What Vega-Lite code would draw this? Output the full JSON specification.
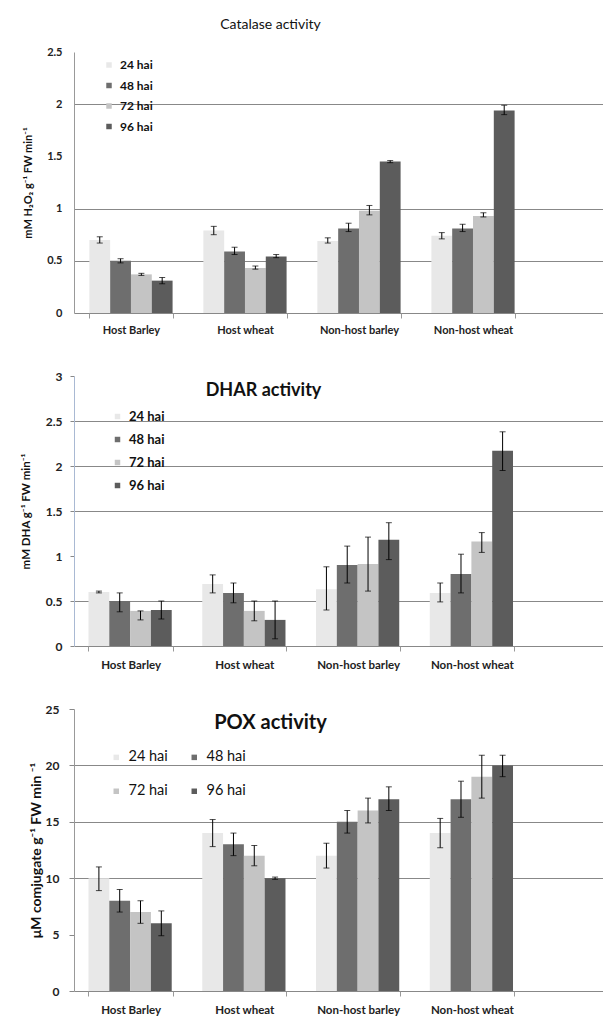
{
  "$schema": "https://vega.github.io/schema/vega-lite/v6.json",
  "background": "white",
  "padding": {"left": 20, "top": 18, "right": 0, "bottom": 0},
  "bounds": "flush",
  "spacing": 63,
  "resolve": {"scale": {"color": "independent"}, "legend": {"color": "independent"}},
  "config": {
    "view": {"stroke": null},
    "font": "Lato",
    "axis": {"labelFont": "Lato", "titleFont": "Lato", "labelColor": "#222", "titleColor": "#111"},
    "legend": {"labelFont": "Lato"},
    "title": {"font": "Lato", "color": "#111"}
  },
  "datasets": {
    "cat": [
      {"g": "Host Barley", "t": "24 hai", "v": 0.70, "lo": 0.67, "hi": 0.73},
      {"g": "Host Barley", "t": "48 hai", "v": 0.50, "lo": 0.48, "hi": 0.52},
      {"g": "Host Barley", "t": "72 hai", "v": 0.37, "lo": 0.36, "hi": 0.38},
      {"g": "Host Barley", "t": "96 hai", "v": 0.31, "lo": 0.28, "hi": 0.34},
      {"g": "Host wheat", "t": "24 hai", "v": 0.79, "lo": 0.75, "hi": 0.83},
      {"g": "Host wheat", "t": "48 hai", "v": 0.59, "lo": 0.56, "hi": 0.63},
      {"g": "Host wheat", "t": "72 hai", "v": 0.43, "lo": 0.42, "hi": 0.45},
      {"g": "Host wheat", "t": "96 hai", "v": 0.54, "lo": 0.53, "hi": 0.56},
      {"g": "Non-host barley", "t": "24 hai", "v": 0.69, "lo": 0.67, "hi": 0.72},
      {"g": "Non-host barley", "t": "48 hai", "v": 0.81, "lo": 0.78, "hi": 0.86},
      {"g": "Non-host barley", "t": "72 hai", "v": 0.98, "lo": 0.94, "hi": 1.03},
      {"g": "Non-host barley", "t": "96 hai", "v": 1.45, "lo": 1.44, "hi": 1.46},
      {"g": "Non-host wheat", "t": "24 hai", "v": 0.74, "lo": 0.71, "hi": 0.77},
      {"g": "Non-host wheat", "t": "48 hai", "v": 0.81, "lo": 0.78, "hi": 0.85},
      {"g": "Non-host wheat", "t": "72 hai", "v": 0.93, "lo": 0.92, "hi": 0.96},
      {"g": "Non-host wheat", "t": "96 hai", "v": 1.94, "lo": 1.90, "hi": 1.99}
    ],
    "dhar": [
      {"g": "Host Barley", "t": "24 hai", "v": 0.60, "lo": 0.59, "hi": 0.61},
      {"g": "Host Barley", "t": "48 hai", "v": 0.50, "lo": 0.38, "hi": 0.59},
      {"g": "Host Barley", "t": "72 hai", "v": 0.39, "lo": 0.29, "hi": 0.39},
      {"g": "Host Barley", "t": "96 hai", "v": 0.40, "lo": 0.30, "hi": 0.50},
      {"g": "Host wheat", "t": "24 hai", "v": 0.69, "lo": 0.59, "hi": 0.79},
      {"g": "Host wheat", "t": "48 hai", "v": 0.59, "lo": 0.48, "hi": 0.70},
      {"g": "Host wheat", "t": "72 hai", "v": 0.39, "lo": 0.28, "hi": 0.50},
      {"g": "Host wheat", "t": "96 hai", "v": 0.29, "lo": 0.08, "hi": 0.50},
      {"g": "Non-host barley", "t": "24 hai", "v": 0.63, "lo": 0.40, "hi": 0.88},
      {"g": "Non-host barley", "t": "48 hai", "v": 0.90, "lo": 0.70, "hi": 1.11},
      {"g": "Non-host barley", "t": "72 hai", "v": 0.91, "lo": 0.61, "hi": 1.21},
      {"g": "Non-host barley", "t": "96 hai", "v": 1.18, "lo": 0.96, "hi": 1.37},
      {"g": "Non-host wheat", "t": "24 hai", "v": 0.59, "lo": 0.49, "hi": 0.70},
      {"g": "Non-host wheat", "t": "48 hai", "v": 0.80, "lo": 0.59, "hi": 1.02},
      {"g": "Non-host wheat", "t": "72 hai", "v": 1.16, "lo": 1.04, "hi": 1.26},
      {"g": "Non-host wheat", "t": "96 hai", "v": 2.17, "lo": 1.95, "hi": 2.38}
    ],
    "pox": [
      {"g": "Host Barley", "t": "24 hai", "v": 10, "lo": 8.9, "hi": 11.0},
      {"g": "Host Barley", "t": "48 hai", "v": 8, "lo": 7.0, "hi": 9.0},
      {"g": "Host Barley", "t": "72 hai", "v": 7, "lo": 6.0, "hi": 8.0},
      {"g": "Host Barley", "t": "96 hai", "v": 6, "lo": 4.9, "hi": 7.1},
      {"g": "Host wheat", "t": "24 hai", "v": 14, "lo": 12.8, "hi": 15.2},
      {"g": "Host wheat", "t": "48 hai", "v": 13, "lo": 12.0, "hi": 14.0},
      {"g": "Host wheat", "t": "72 hai", "v": 12, "lo": 11.1, "hi": 12.9},
      {"g": "Host wheat", "t": "96 hai", "v": 10, "lo": 9.9, "hi": 10.1},
      {"g": "Non-host barley", "t": "24 hai", "v": 12, "lo": 10.9, "hi": 13.1},
      {"g": "Non-host barley", "t": "48 hai", "v": 15, "lo": 14.0, "hi": 16.0},
      {"g": "Non-host barley", "t": "72 hai", "v": 16, "lo": 14.9, "hi": 17.1},
      {"g": "Non-host barley", "t": "96 hai", "v": 17, "lo": 16.0, "hi": 18.1},
      {"g": "Non-host wheat", "t": "24 hai", "v": 14, "lo": 12.7, "hi": 15.3},
      {"g": "Non-host wheat", "t": "48 hai", "v": 17, "lo": 15.4, "hi": 18.6},
      {"g": "Non-host wheat", "t": "72 hai", "v": 19, "lo": 17.1, "hi": 20.9},
      {"g": "Non-host wheat", "t": "96 hai", "v": 20, "lo": 19.0, "hi": 20.9}
    ]
  },
  "vconcat": [
    {
      "width": 529,
      "height": 261,
      "data": {"name": "cat"},
      "title": {"text": "Catalase activity", "fontSize": 14, "fontWeight": "normal", "frame": "group", "anchor": "middle", "dx": -68, "offset": 14},
      "encoding": {
        "x": {"field": "g", "type": "nominal", "sort": null, "title": null,
              "scale": {"paddingInner": 0.27, "paddingOuter": 0.455, "align": 0.148},
              "axis": {"labelAngle": 0, "labelFontSize": 11, "labelFontWeight": "bold", "domain": false, "tickBand": "extent", "tickColor": "#999", "tickSize": 5, "labelPadding": 6}},
        "xOffset": {"field": "t", "type": "nominal", "sort": null, "scale": {"paddingInner": 0, "paddingOuter": 0}}
      },
      "layer": [
        {
          "mark": {"type": "bar"},
          "encoding": {
            "y": {"field": "v", "type": "quantitative", "title": "mM H₂O₂ g⁻¹ FW min⁻¹",
                  "scale": {"domain": [0, 2.5], "nice": false},
                  "axis": {"values": [0, 0.5, 1, 1.5, 2, 2.5], "format": "~g", "labelFontSize": 11, "labelFontWeight": "bold", "ticks": false, "labelPadding": 12, "domainColor": "#999",
                           "gridColor": "#888", "gridOpacity": {"condition": {"test": "datum.value == 1.5 || datum.value == 2.5", "value": 0}, "value": 1},
                           "titleFontSize": 11, "titleFontWeight": "bold", "titleX": -46, "titleBaseline": "middle"}},
            "color": {"field": "t", "type": "nominal", "sort": null,
                      "scale": {"domain": ["24 hai", "48 hai", "72 hai", "96 hai"], "range": ["#e8e8e8", "#6e6e6e", "#c4c4c4", "#5c5c5c"]},
                      "legend": {"orient": "none", "legendX": 29, "legendY": 7, "direction": "vertical", "columns": 1, "title": null, "symbolType": "square", "symbolSize": 30, "symbolStrokeWidth": 0,
                                 "labelFontSize": 12, "labelFontWeight": "bold", "labelColor": "#111", "rowPadding": 8.5, "labelOffset": 5}}
          }
        },
        {"mark": {"type": "rule", "color": "#000", "strokeWidth": 1},
         "encoding": {"y": {"field": "lo", "type": "quantitative", "title": "mM H₂O₂ g⁻¹ FW min⁻¹"}, "y2": {"field": "hi"}}},
        {"mark": {"type": "tick", "color": "#000", "size": 6, "thickness": 1},
         "encoding": {"y": {"field": "lo", "type": "quantitative", "title": "mM H₂O₂ g⁻¹ FW min⁻¹"}}},
        {"mark": {"type": "tick", "color": "#000", "size": 6, "thickness": 1},
         "encoding": {"y": {"field": "hi", "type": "quantitative", "title": "mM H₂O₂ g⁻¹ FW min⁻¹"}}}
      ]
    },
    {
      "width": 529,
      "height": 270,
      "data": {"name": "dhar"},
      "title": {"text": "DHAR activity", "fontSize": 18, "fontWeight": "bold", "frame": "group", "anchor": "middle", "dx": -75, "offset": -30},
      "encoding": {
        "x": {"field": "g", "type": "nominal", "sort": null, "title": null,
              "scale": {"paddingInner": 0.26, "paddingOuter": 0.455, "align": 0.14},
              "axis": {"labelAngle": 0, "labelFontSize": 11.5, "labelFontWeight": "bold", "domain": false, "tickBand": "extent", "tickColor": "#999", "tickSize": 5, "labelPadding": 8}},
        "xOffset": {"field": "t", "type": "nominal", "sort": null, "scale": {"paddingInner": 0, "paddingOuter": 0}}
      },
      "layer": [
        {
          "mark": {"type": "bar"},
          "encoding": {
            "y": {"field": "v", "type": "quantitative", "title": "mM DHA g⁻¹ FW min⁻¹",
                  "scale": {"domain": [0, 3], "nice": false},
                  "axis": {"values": [0, 0.5, 1, 1.5, 2, 2.5, 3], "format": "~g", "labelFontSize": 12, "labelFontWeight": "bold", "tickSize": 4, "tickColor": "#888", "labelPadding": 8, "domainColor": "#a9b9d3",
                           "gridColor": "#888", "gridOpacity": {"condition": {"test": "datum.value == 1 || datum.value == 3", "value": 0}, "value": 1},
                           "titleFontSize": 11.5, "titleFontWeight": "bold", "titleX": -48, "titleBaseline": "middle"}},
            "color": {"field": "t", "type": "nominal", "sort": null,
                      "scale": {"domain": ["24 hai", "48 hai", "72 hai", "96 hai"], "range": ["#e8e8e8", "#6e6e6e", "#c4c4c4", "#5c5c5c"]},
                      "legend": {"orient": "none", "legendX": 37, "legendY": 34, "direction": "vertical", "columns": 1, "title": null, "symbolType": "square", "symbolSize": 30, "symbolStrokeWidth": 0,
                                 "labelFontSize": 13, "labelFontWeight": "bold", "labelColor": "#111", "rowPadding": 9, "labelOffset": 5}}
          }
        },
        {"mark": {"type": "rule", "color": "#000", "strokeWidth": 1},
         "encoding": {"y": {"field": "lo", "type": "quantitative", "title": "mM DHA g⁻¹ FW min⁻¹"}, "y2": {"field": "hi"}}},
        {"mark": {"type": "tick", "color": "#000", "size": 6, "thickness": 1},
         "encoding": {"y": {"field": "lo", "type": "quantitative", "title": "mM DHA g⁻¹ FW min⁻¹"}}},
        {"mark": {"type": "tick", "color": "#000", "size": 6, "thickness": 1},
         "encoding": {"y": {"field": "hi", "type": "quantitative", "title": "mM DHA g⁻¹ FW min⁻¹"}}}
      ]
    },
    {
      "width": 529,
      "height": 282,
      "data": {"name": "pox"},
      "title": {"text": "POX activity", "fontSize": 20, "fontWeight": "bold", "frame": "group", "anchor": "middle", "dx": -68, "offset": -30},
      "encoding": {
        "x": {"field": "g", "type": "nominal", "sort": null, "title": null,
              "scale": {"paddingInner": 0.26, "paddingOuter": 0.455, "align": 0.14},
              "axis": {"labelAngle": 0, "labelFontSize": 11.5, "labelFontWeight": "bold", "domain": false, "tickBand": "extent", "tickColor": "#999", "tickSize": 5, "labelPadding": 8}},
        "xOffset": {"field": "t", "type": "nominal", "sort": null, "scale": {"paddingInner": 0, "paddingOuter": 0}}
      },
      "layer": [
        {
          "mark": {"type": "bar"},
          "encoding": {
            "y": {"field": "v", "type": "quantitative", "title": "μM comjugate g⁻¹ FW min ⁻¹",
                  "scale": {"domain": [0, 25], "nice": false},
                  "axis": {"values": [0, 5, 10, 15, 20, 25], "labelFontSize": 12, "labelFontWeight": "bold", "tickSize": 5, "tickColor": "#888", "labelPadding": 10, "domainColor": "#999",
                           "gridColor": "#888", "gridOpacity": {"condition": {"test": "datum.value == 5 || datum.value == 25", "value": 0}, "value": 1},
                           "titleFontSize": 14, "titleFontWeight": "bold", "titleX": -38, "titleBaseline": "middle"}},
            "color": {"field": "t", "type": "nominal", "sort": null,
                      "scale": {"domain": ["24 hai", "48 hai", "72 hai", "96 hai"], "range": ["#e8e8e8", "#6e6e6e", "#c4c4c4", "#5c5c5c"]},
                      "legend": {"orient": "none", "legendX": 35, "legendY": 41, "direction": "horizontal", "title": null, "symbolType": "square", "symbolSize": 30, "symbolStrokeWidth": 0, "columns": 2, "columnPadding": 19,
                                 "labelFontSize": 14.5, "labelFontWeight": "normal", "labelColor": "#111", "rowPadding": 19, "labelOffset": 5}}
          }
        },
        {"mark": {"type": "rule", "color": "#000", "strokeWidth": 1},
         "encoding": {"y": {"field": "lo", "type": "quantitative", "title": "μM comjugate g⁻¹ FW min ⁻¹"}, "y2": {"field": "hi"}}},
        {"mark": {"type": "tick", "color": "#000", "size": 6, "thickness": 1},
         "encoding": {"y": {"field": "lo", "type": "quantitative", "title": "μM comjugate g⁻¹ FW min ⁻¹"}}},
        {"mark": {"type": "tick", "color": "#000", "size": 6, "thickness": 1},
         "encoding": {"y": {"field": "hi", "type": "quantitative", "title": "μM comjugate g⁻¹ FW min ⁻¹"}}}
      ]
    }
  ]
}
